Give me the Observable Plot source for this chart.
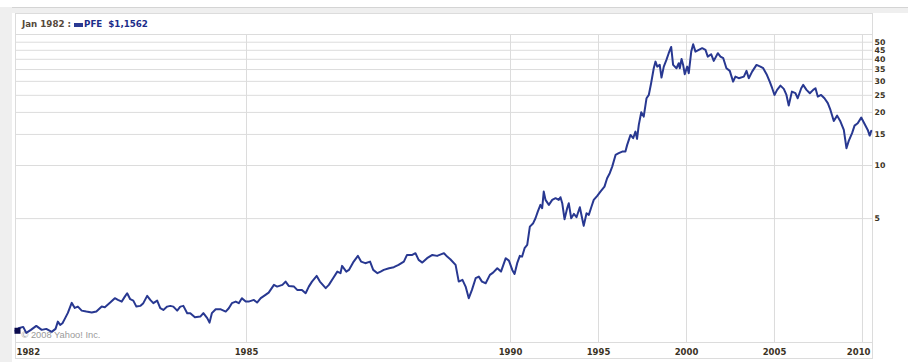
<!DOCTYPE html>
<html><head><meta charset="utf-8">
<script src="https://cdn.jsdelivr.net/npm/d3@7"></script>
<script src="https://cdn.jsdelivr.net/npm/@observablehq/plot@0.6"></script>
<style>
body{margin:0;background:#fff;}
#wrap{position:relative;width:908px;height:362px;overflow:hidden;background:#fff;font-family:"DejaVu Sans",sans-serif;}
#topband{position:absolute;left:0;top:7px;width:908px;height:6px;background:#efefef;border-top:1px solid #d4d4d4;box-sizing:border-box;}
#leftband{position:absolute;left:0;top:7px;width:12px;height:355px;background:#efefef;}
#header{position:absolute;left:15px;top:13px;width:858px;height:21px;box-sizing:border-box;border:1px solid #dcdcdc;border-bottom:none;background:#fff;}
#legend{position:absolute;left:6px;top:5px;font-size:8.7px;font-weight:bold;line-height:10px;white-space:pre;color:#55483a;}
#legend .sw{display:inline-block;width:9px;height:4px;background:#2a3a93;margin:0 1px 0 0;vertical-align:0px;}
#legend .tk{color:#1c2d8a;}
#chart{position:absolute;left:0;top:33px;}
#xbox{position:absolute;left:15px;top:342px;width:858px;height:17px;box-sizing:border-box;border:1px solid #dcdcdc;border-top:none;}
</style>
</head><body>
<div id="wrap">
  <div id="topband"></div>
  <div id="leftband"></div>
  <div id="header"><div id="legend">Jan 1982 : <span class="sw"></span><span class="tk">PFE  $1,1562</span></div></div>
  <div id="xbox"></div>
  <div id="chart"></div>
</div>
<script>
// Tick values
const xGridYears = [1985, 1990, 1995, 2000, 2005, 2010];
const xMidLabels = [1985, 1990, 1995, 2000, 2005];
const xFirstLabel = [1982];
const xLastLabel = [2010];
const yTickValues = [5, 10, 15, 20, 25, 30, 35, 40, 45, 50];
const copyright = ["\u00a9 2008 Yahoo! Inc."];
const headerQuote = {date: 1982.0, price: 1.1562};

// PFE monthly-ish closes (decimal year, price $)
const years82 = [1982.00,1982.05,1982.10,1982.14,1982.20,1982.27,1982.34,1982.40,1982.47,1982.52,1982.55,1982.58,1982.61,1982.64,1982.68,1982.73,1982.77,1982.81,1982.86,1982.92,1982.99,1983.05,1983.12,1983.16,1983.23,1983.29,1983.33,1983.38,1983.42,1983.45,1983.49,1983.53,1983.57,1983.62,1983.66,1983.71,1983.75,1983.79,1983.84,1983.88,1983.92,1983.97,1984.01,1984.05,1984.10,1984.14,1984.18,1984.23,1984.27,1984.33,1984.40,1984.44,1984.49,1984.52,1984.55,1984.60,1984.66,1984.73,1984.77,1984.81,1984.86,1984.90,1984.94,1984.99];
const prices82 = [1.156,1.20,1.216,1.125,1.17,1.232,1.17,1.185,1.14,1.185,1.303,1.249,1.276,1.35,1.46,1.664,1.558,1.585,1.504,1.485,1.466,1.485,1.585,1.573,1.671,1.769,1.730,1.692,1.806,1.888,1.746,1.714,1.585,1.600,1.658,1.823,1.730,1.658,1.714,1.552,1.518,1.585,1.600,1.585,1.504,1.585,1.600,1.455,1.455,1.380,1.391,1.455,1.363,1.286,1.455,1.532,1.532,1.485,1.552,1.658,1.692,1.658,1.769,1.692];
const years85 = [1985.04,1985.14,1985.20,1985.27,1985.36,1985.42,1985.52,1985.58,1985.68,1985.74,1985.80,1985.90,1985.96,1986.05,1986.12,1986.18,1986.24,1986.33,1986.39,1986.50,1986.56,1986.64,1986.72,1986.78,1986.81,1986.89,1986.94,1987.03,1987.11,1987.17,1987.25,1987.34,1987.40,1987.48,1987.54,1987.60,1987.70,1987.79,1987.88,1987.98,1988.04,1988.14,1988.20,1988.26,1988.33,1988.42,1988.52,1988.61,1988.74,1988.80,1988.86,1988.96,1989.02,1989.09,1989.15,1989.21,1989.27,1989.34,1989.40,1989.46,1989.53,1989.61,1989.67,1989.75,1989.82,1989.91,1989.97];
const prices85 = [1.692,1.730,1.671,1.769,1.847,1.903,2.104,2.058,2.104,2.197,2.077,2.058,1.971,1.971,1.888,2.058,2.197,2.366,2.197,2.016,2.104,2.297,2.503,2.452,2.697,2.503,2.559,2.853,3.073,2.853,2.794,2.853,2.559,2.452,2.503,2.559,2.617,2.651,2.732,2.853,3.113,3.113,3.183,2.917,2.816,2.982,3.113,3.073,3.183,3.045,2.943,2.732,2.197,2.246,2.058,1.769,1.971,2.297,2.345,2.197,2.151,2.398,2.471,2.617,2.503,2.982,2.890];
const years90 = [1990.10,1990.23,1990.38,1990.53,1990.66,1990.80,1990.95,1991.10,1991.29,1991.42,1991.55,1991.70,1991.80,1991.89,1991.99,1992.18,1992.37,1992.56,1992.74,1992.84,1992.94,1993.07,1993.22,1993.31,1993.45,1993.60,1993.75,1993.94,1994.07,1994.16,1994.32,1994.45,1994.59,1994.73,1994.93,1995.11,1995.34,1995.49,1995.64,1995.78,1995.97,1996.15,1996.35,1996.53,1996.63,1996.82,1996.97,1997.10,1997.19,1997.29,1997.43,1997.57,1997.73,1997.86,1997.99,1998.14,1998.24,1998.34,1998.48,1998.58,1998.71,1998.86,1998.99,1999.13,1999.24,1999.43,1999.56,1999.62,1999.72,1999.81,1999.90];
const prices90 = [2.559,2.429,2.794,3.073,3.045,3.399,3.548,4.504,4.709,5.025,5.480,5.979,5.727,7.112,6.383,5.979,6.383,6.526,6.383,6.612,6.113,4.962,5.727,6.113,5.025,5.316,5.092,5.802,5.025,4.546,5.365,5.248,5.802,6.383,6.725,7.112,7.592,8.472,9.045,9.856,11.48,11.74,11.99,11.99,13.09,14.91,14.28,15.57,14.15,16.99,20.05,18.93,24.07,25.13,29.28,35.61,38.82,36.37,37.18,31.50,36.37,39.69,43.31,47.02,37.18,35.61,38.01,35.61,40.22,37.18,32.94];
const years00 = [2000.04,2000.13,2000.27,2000.38,2000.51,2000.70,2000.89,2001.08,2001.21,2001.40,2001.55,2001.78,2001.93,2002.09,2002.27,2002.46,2002.65,2002.78,2002.97,2003.26,2003.41,2003.54,2003.73,2003.98,2004.20,2004.36,2004.55,2004.73,2004.87,2005.00,2005.15,2005.34,2005.53,2005.68,2005.81,2005.99,2006.19,2006.32,2006.52,2006.63,2006.82,2007.01,2007.20,2007.33,2007.46,2007.65,2007.84,2008.03,2008.18,2008.37,2008.56,2008.75,2008.94,2009.09,2009.22,2009.41,2009.55,2009.73,2009.93,2010.07,2010.30,2010.41,2010.50];
const prices00 = [36.37,33.37,44.23,48.71,44.23,45.22,46.24,45.22,41.44,42.76,39.18,43.31,41.44,40.58,35.61,34.39,29.90,31.92,31.26,31.92,34.39,31.26,34.07,37.18,36.37,35.61,32.94,29.90,27.43,25.13,26.83,28.38,27.19,25.13,21.86,26.24,25.70,24.07,27.43,28.64,26.83,25.70,26.83,27.43,24.58,25.13,24.07,22.56,20.66,17.89,19.18,17.74,15.91,12.53,13.79,15.25,16.84,17.37,18.69,17.60,15.91,14.78,15.71];

const years = [...years82, ...years85, ...years90, ...years00];
const prices = [...prices82, ...prices85, ...prices90, ...prices00];
const series = years.map((t, i) => ({t, v: prices[i]}));

const grid = "#dcdcdc";
const lineColor = "#283891";

const chart = Plot.plot({
  width: 908,
  height: 329,
  marginLeft: 15,
  marginRight: 36,
  marginTop: 1,
  marginBottom: 20,
  style: {background: "transparent", fontFamily: "'DejaVu Sans', sans-serif", fontSize: "8.5px", fontWeight: "bold", color: "#3b3325"},
  x: {type: "linear", domain: [1982, 1985, 1990, 2010.57], range: [15, 246, 510, 872]},
  y: {type: "log", domain: [0.992, 55.3]},
  marks: [
    Plot.gridY(yTickValues, {stroke: grid, strokeOpacity: 1}),
    Plot.gridX(xGridYears, {stroke: grid, strokeOpacity: 1}),
    Plot.frame({stroke: grid}),
    Plot.axisY(yTickValues, {anchor: "right", tickSize: 0, tickPadding: 2, fontSize: 7.8, tickFormat: d => String(d)}),
    Plot.axisX(xMidLabels, {anchor: "bottom", tickSize: 0, tickPadding: 6, tickFormat: d => String(d)}),
    Plot.axisX(xFirstLabel, {anchor: "bottom", tickSize: 0, tickPadding: 6, textAnchor: "start", dx: 1, tickFormat: d => String(d)}),
    Plot.axisX(xLastLabel, {anchor: "bottom", tickSize: 0, tickPadding: 6, textAnchor: "end", dx: 8, tickFormat: d => String(d)}),
    Plot.text(copyright, {frameAnchor: "bottom-left", dx: 6, dy: -5, textAnchor: "start", lineAnchor: "bottom", fill: "#9a9a9a", fontWeight: "normal", fontFamily: "'Liberation Sans', Arial, sans-serif", fontSize: 9.3}),
    Plot.line(series, {x: "t", y: "v", stroke: lineColor, strokeWidth: 2}),
    Plot.dot([headerQuote], {x: "date", y: "price", symbol: "square", r: 3.4, fill: "#0b0b4e", stroke: "none", dx: 2})
  ]
});
document.getElementById("chart").appendChild(chart);
</script>
</body></html>
